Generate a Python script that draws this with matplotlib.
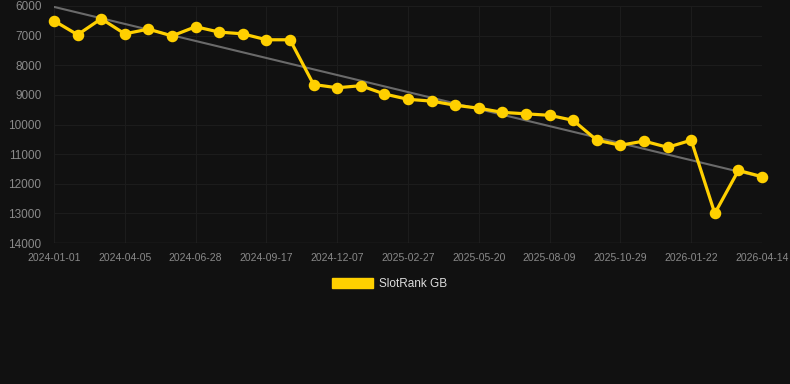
import matplotlib.pyplot as plt

plt.rcParams['font.family'] = ['Liberation Sans', 'DejaVu Sans']

# rank per snapshot (lower on chart = worse rank)
ranks = [6500, 6970, 6430, 6940, 6780, 7010, 6700, 6880, 6940, 7140, 7140,
         8650, 8760, 8690, 8970, 9150, 9210, 9350, 9450, 9590, 9640,
         9690, 9860, 10530, 10700, 10560, 10770, 10530, 13000, 11550, 11760]
tick_labels = ["2024-01-01", "2024-04-05", "2024-06-28", "2024-09-17",
               "2024-12-07", "2025-02-27", "2025-05-20", "2025-08-09",
               "2025-10-29", "2026-01-22", "2026-04-14"]
trend_start, trend_end = 6030, 11780
y_ticks = [6000, 7000, 8000, 9000, 10000, 11000, 12000, 13000, 14000]

bg = "#111111"
fig = plt.figure(figsize=(7.9, 3.84), dpi=100, facecolor=bg)
ax = fig.add_axes([54/790, 1 - 243/384, 708/790, 237/384], facecolor=bg)

x = list(range(len(ranks)))
ax.plot([x[0], x[-1]], [trend_start, trend_end], color="#6a6a6a", lw=1.5, zorder=2)
ax.plot(x, ranks, color="#FFD000", lw=2.3, marker="o", markersize=7.3,
        zorder=3, label="SlotRank GB", clip_on=False)

ax.set_xlim(0, len(ranks) - 1)
ax.set_ylim(14000, 6000)
ax.set_yticks(y_ticks)
ax.set_yticklabels([str(v) for v in y_ticks], fontsize=8.5, color="#8a8a8a")
ax.set_xticks(x[::3])
ax.set_xticklabels(tick_labels, fontsize=7.5, color="#8a8a8a")
ax.grid(True, color="#1c1c1c", lw=0.8)
ax.tick_params(axis="y", length=0, pad=9)
ax.tick_params(axis="x", length=0, pad=7)
for s in ax.spines.values():
    s.set_visible(False)
ax.axhline(14000, color="#2c2c2c", lw=1)

leg = fig.legend(handles=[plt.Rectangle((0, 0), 1, 1, color="#FFD000")],
                 labels=["SlotRank GB"], loc="center", bbox_to_anchor=(0.493, 1 - 284/384),
                 frameon=False, fontsize=8.5, handlelength=3.5, handleheight=0.9,
                 handletextpad=0.5)
for t in leg.get_texts():
    t.set_color("#dddddd")

fig.savefig("out.png", dpi=100, facecolor=bg)
